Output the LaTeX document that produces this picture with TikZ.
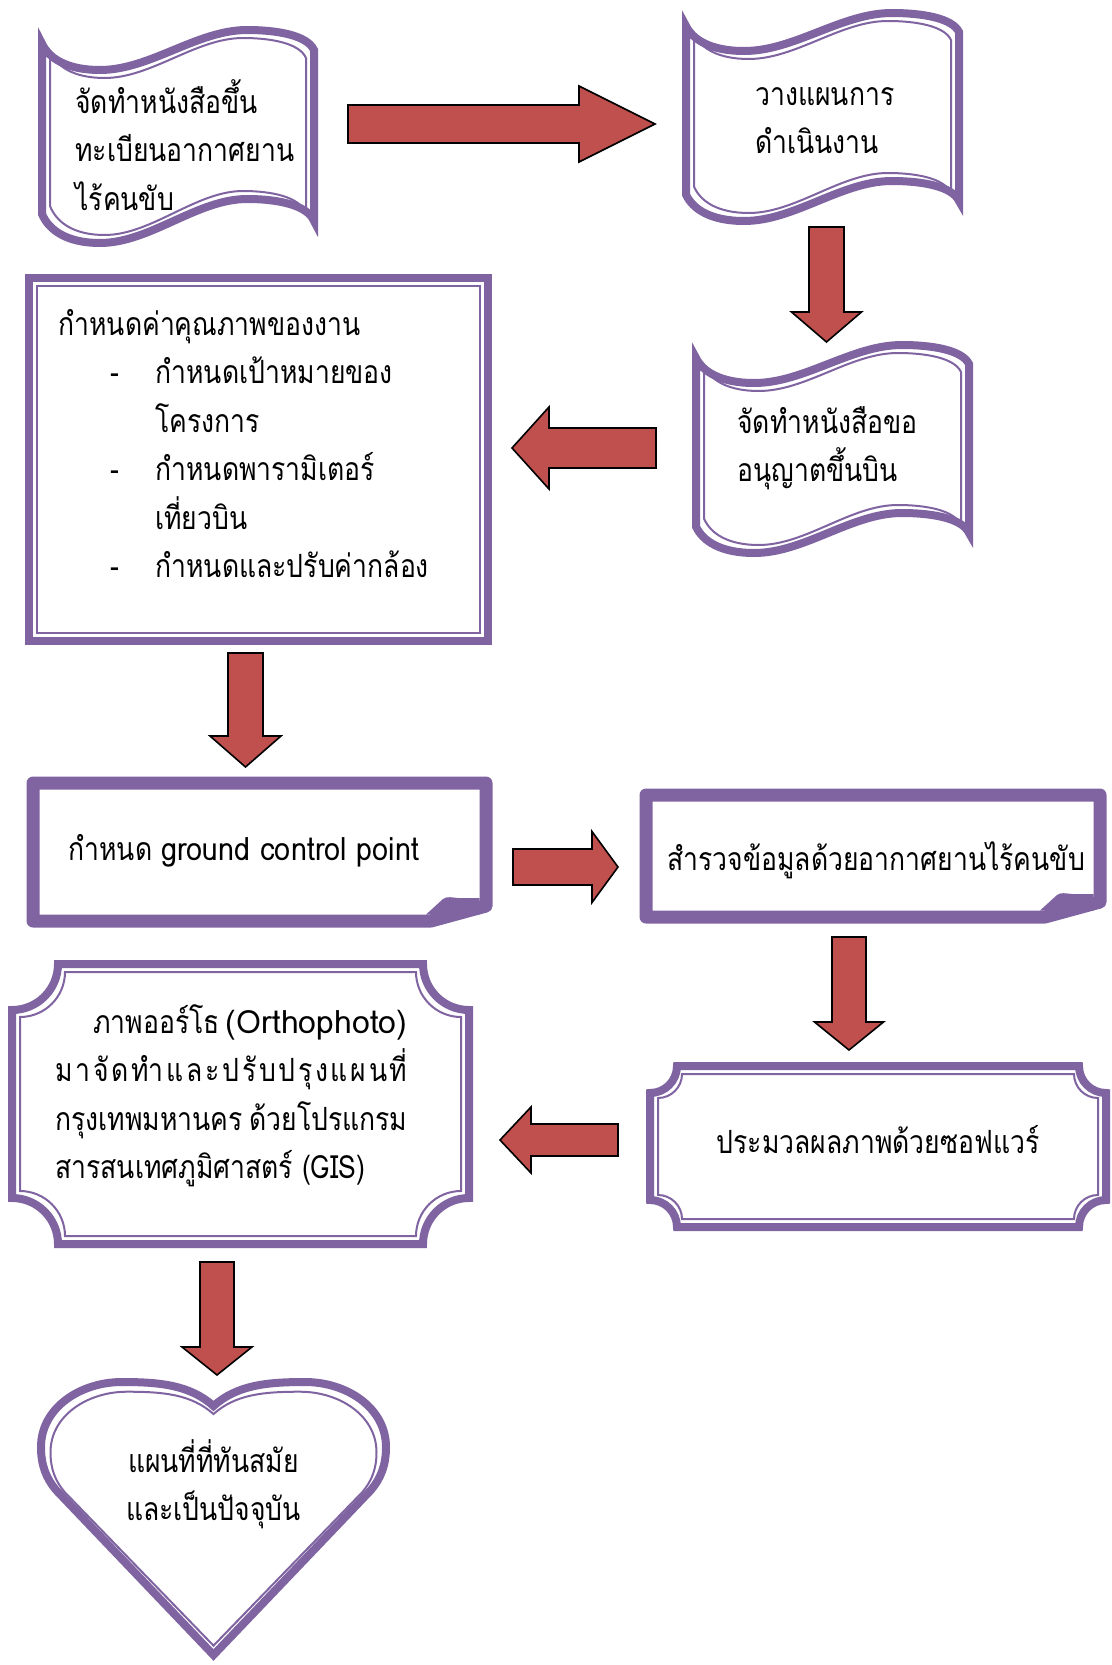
\documentclass[tikz,border=0pt]{standalone}
\usepackage{fontspec}
\newfontfamily\thai[Script=Thai,FakeStretch=0.83]{Loma}
\newfontfamily\lat{Loma}
\newfontfamily\latn[FakeStretch=0.9]{Loma}
\definecolor{upurple}{HTML}{8064A2}
\definecolor{ared}{HTML}{C0504D}
\newcommand\Tlines[1]{\vtop{\baselineskip=24.25pt\lineskiplimit=-100pt\lineskip=0pt\relax #1}}
\newcommand\dgap{\hskip 0pt plus 1fil\relax}
% wave banner: l r ytop ybot atop abot style
\newcommand\wave[7]{%
\draw[#7]
 (#1,{#3-0.32*#5})
 .. controls ({#1+0.025*(#2-#1)},{#3+0.42*#5}) and ({#1+0.092*(#2-#1)},{#3+#5}) .. ({#1+0.213*(#2-#1)},{#3+#5})
 .. controls ({#1+0.397*(#2-#1)},{#3+#5}) and ({#1+0.570*(#2-#1)},{#3-#5}) .. ({#1+0.754*(#2-#1)},{#3-#5})
 .. controls ({#1+0.864*(#2-#1)},{#3-#5}) and ({#1+0.975*(#2-#1)},{#3-0.74*#5}) .. (#2,#3)
 -- (#2,#4)
 .. controls ({#1+0.975*(#2-#1)},{#4-0.74*#6}) and ({#1+0.864*(#2-#1)},{#4-#6}) .. ({#1+0.754*(#2-#1)},{#4-#6})
 .. controls ({#1+0.570*(#2-#1)},{#4-#6}) and ({#1+0.397*(#2-#1)},{#4+#6}) .. ({#1+0.213*(#2-#1)},{#4+#6})
 .. controls ({#1+0.092*(#2-#1)},{#4+#6}) and ({#1+0.025*(#2-#1)},{#4+0.42*#6}) .. (#1,{#4-0.32*#6})
 -- cycle;}
% plaque: l t r b rho style
\newcommand\plaque[6]{%
\draw[#6] ({#1+#5},#2) -- ({#3-#5},#2)
 .. controls ({#3-#5},{#2+0.552*#5}) and ({#3-0.552*#5},{#2+#5}) .. (#3,{#2+#5})
 -- (#3,{#4-#5})
 .. controls ({#3-0.552*#5},{#4-#5}) and ({#3-#5},{#4-0.552*#5}) .. ({#3-#5},#4)
 -- ({#1+#5},#4)
 .. controls ({#1+#5},{#4-0.552*#5}) and ({#1+0.552*#5},{#4-#5}) .. (#1,{#4-#5})
 -- (#1,{#2+#5})
 .. controls ({#1+0.552*#5},{#2+#5}) and ({#1+#5},{#2+0.552*#5}) .. ({#1+#5},#2)
 -- cycle;}
% folded-corner box: l t r b
\newcommand\foldbox[4]{%
\draw[foldline] (#1,#2) -- (#3,#2) -- (#3,{#4-15}) -- ({#3-55},#4) -- (#1,#4) -- cycle;
\fill[upurple] ({#3-60},{#4-6.5}) -- ({#3-43},{#4-22})
 .. controls ({#3-39},{#4-25}) and ({#3-34},{#4-23.5}) .. ({#3-28},{#4-23})
 -- ({#3-6.5},{#4-23}) -- ({#3-6.5},{#4-6.5}) -- cycle;}
% block arrow: tail x, tail y, rotation, length, shaft half, head half, head length
\newcommand\barrow[7]{%
\draw[blockarrow, shift={(#1,#2)}, rotate=#3]
 (0,{-#5}) -- ({#4-#7},{-#5}) -- ({#4-#7},{-#6}) -- (#4,0) -- ({#4-#7},#6) -- ({#4-#7},#5) -- (0,#5) -- cycle;}
\begin{document}
\begin{tikzpicture}[x=0.5pt,y=-0.5pt,
 outerline/.style={draw=upurple,line width=4pt,line join=miter,fill=white},
 innerline/.style={draw=upurple,line width=1pt,line join=miter},
 foldline/.style={draw=upurple,line width=6.5pt,line join=round,fill=white},
 blockarrow/.style={fill=ared,draw=black,line width=0.8pt,line join=miter},
 txt/.style={inner sep=0pt,anchor=base west,font=\thai\fontsize{16pt}{24pt}\selectfont}]
\fill[white] (0,0) rectangle (1112,1665);
\useasboundingbox (0,0) rectangle (1112,1665);

% wave banners
\wave{42}{314}{50}{221}{20}{22}{outerline}
\wave{50}{306}{58}{213}{20}{22}{innerline}
\wave{686}{959}{32}{201}{19}{20}{outerline}
\wave{694}{951}{40}{193}{19}{20}{innerline}
\wave{696}{969}{364}{533}{19}{20}{outerline}
\wave{704}{961}{372}{525}{19}{20}{innerline}

% double rectangle
\draw[outerline] (29,278) rectangle (488,641);
\draw[innerline] (37,286) rectangle (480,633);

% folded-corner boxes
\foldbox{33}{783}{486}{921}
\foldbox{646}{795}{1100}{917}

% plaques
\plaque{650}{1066}{1106}{1227}{27}{outerline}
\plaque{658}{1074}{1098}{1219}{24}{innerline}
\plaque{12}{964}{469}{1244}{46}{outerline}
\plaque{20}{972}{461}{1236}{45}{innerline}

% heart
\draw[outerline] (213.5,1406) .. controls (190,1385) and (160,1382) .. (122,1382)
 .. controls (80,1382) and (41,1408) .. (41,1447)
 .. controls (41,1465) and (46,1478) .. (56,1490)
 -- (213.5,1655) -- (371,1490)
 .. controls (381,1478) and (386,1465) .. (386,1447)
 .. controls (386,1408) and (347,1382) .. (305,1382)
 .. controls (267,1382) and (237,1385) .. (213.5,1406) -- cycle;
\draw[innerline] (213.5,1414) .. controls (191.3,1394.4) and (163.9,1391.7) .. (127,1391.7)
 .. controls (87.3,1391.7) and (50.5,1415.8) .. (50.5,1452.1)
 .. controls (50.5,1468.9) and (55.2,1480.9) .. (64.7,1492.1)
 -- (213.5,1645.6) -- (362.3,1492.1)
 .. controls (371.8,1480.9) and (376.5,1468.9) .. (376.5,1452.1)
 .. controls (376.5,1415.8) and (339.7,1391.7) .. (300,1391.7)
 .. controls (263.1,1391.7) and (235.7,1394.4) .. (213.5,1414) -- cycle;

% block arrows
\barrow{348}{124}{0}{307}{19}{38}{76}
\barrow{826.5}{227}{-90}{115}{17.5}{35}{30}
\barrow{656}{448}{180}{144}{20}{41}{37}
\barrow{245.5}{653}{-90}{114}{17.5}{35.5}{31}
\barrow{513}{867}{0}{105}{18}{35.5}{26}
\barrow{849}{937}{-90}{113}{17}{34.5}{28}
\barrow{618}{1140}{180}{118}{16}{33}{31}
\barrow{217}{1262}{-90}{113}{17}{35}{28}

% texts
\node[txt] (n1) at (75,113) {\Tlines{\hbox{จัดทำหนังสือขึ้น}\hbox{ทะเบียนอากาศยาน}\hbox{ไร้คนขับ}}};
\node[txt] (n2) at (755,105) {\Tlines{\hbox{วางแผนการ}\hbox{ดำเนินงาน}}};
\node[txt] (n3) at (737,433) {\Tlines{\hbox{จัดทำหนังสือขอ}\hbox{อนุญาตขึ้นบิน}}};
\node[txt] (n4) at (58,335) {\Tlines{\hbox{กำหนดค่าคุณภาพของงาน}
\hbox{\hbox to 48.5pt{\hskip26pt -\hfil}กำหนดเป้าหมายของ}
\hbox{\hskip48.5pt โครงการ}
\hbox{\hbox to 48.5pt{\hskip26pt -\hfil}กำหนดพารามิเตอร์}
\hbox{\hskip48.5pt เที่ยวบิน}
\hbox{\hbox to 48.5pt{\hskip26pt -\hfil}กำหนดและปรับค่ากล้อง}}};
\node[txt] (n5) at (68,860) {กำหนด {\latn ground control point}};
\node[txt] (n6) at (667,870) {สำรวจข้อมูลด้วยอากาศยานไร้คนขับ};
\node[txt,anchor=base] (n7) at (878,1153) {ประมวลผลภาพด้วยซอฟแวร์};
\node[txt] (n8) at (55,1033) {\Tlines{%
\hbox to 176pt{\hskip19pt ภ\dgap า\dgap พ\dgap อ\dgap อ\dgap ร์\dgap โ\dgap ธ\dgap\ {\lat (Orthophoto)}}
\hbox to 176pt{ม\dgap า\dgap จั\dgap ด\dgap ทำ\dgap แ\dgap ล\dgap ะ\dgap ป\dgap รั\dgap บ\dgap ป\dgap รุ\dgap ง\dgap แ\dgap ผ\dgap น\dgap ที่}
\hbox to 176pt{ก\dgap รุ\dgap ง\dgap เ\dgap ท\dgap พ\dgap ม\dgap ห\dgap า\dgap น\dgap ค\dgap ร\ \dgap ด้\dgap ว\dgap ย\dgap โ\dgap ป\dgap ร\dgap แ\dgap ก\dgap ร\dgap ม}
\hbox{สารสนเทศภูมิศาสตร์ (GIS)}}};
\node[txt,anchor=base] (n9) at (213.5,1472) {\Tlines{\hbox to 200pt{\hss แผนที่ที่ทันสมัย\hss}\hbox to 200pt{\hss และเป็นปัจจุบัน\hss}}};
\end{tikzpicture}
\end{document}
